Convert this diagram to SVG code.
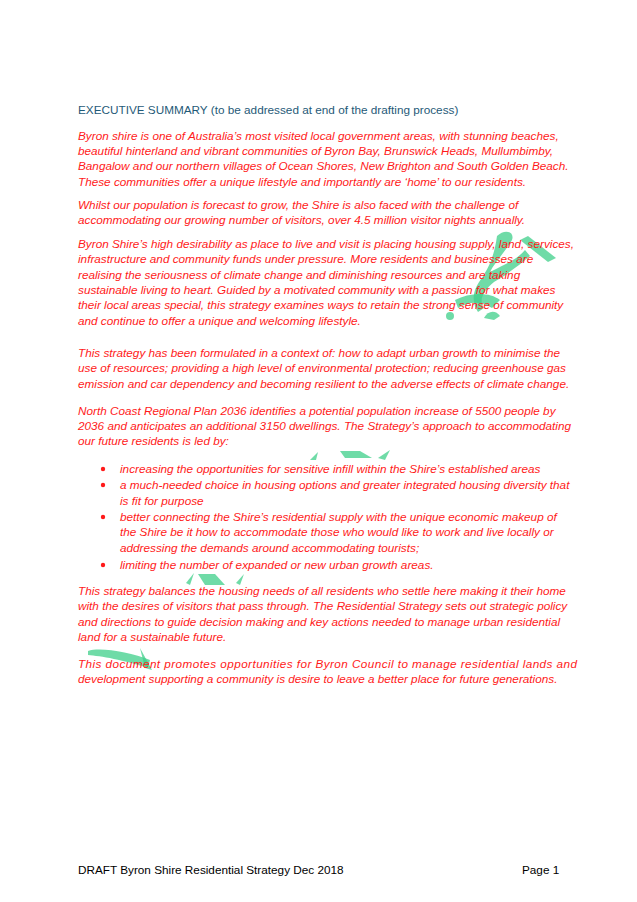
<svg xmlns="http://www.w3.org/2000/svg" width="637" height="902" viewBox="0 0 637 902">
<style>
.t{font-family:"Liberation Sans",Arial,sans-serif;font-size:11.75px;font-style:italic;fill:#ff1a1a}
.h{font-family:"Liberation Sans",Arial,sans-serif;font-size:11.75px;fill:#1f5a78}
.f{font-family:"Liberation Sans",Arial,sans-serif;font-size:11.75px;fill:#000}
.w{fill:#3fcf8a;opacity:0.75}
</style>
<rect width="637" height="902" fill="#fff"/>
<g id="watermark">
<path class="w" d="M497 236 C505 228 515 232 512 240 C505 252 495 262 490 272 L498 268 C510 262 518 258 525 250 L530 256 C518 266 505 276 494 282 C484 290 478 300 484 308 L478 312 C470 300 474 288 482 278 C488 268 494 258 497 236Z"/>
<path class="w" d="M520 240 L548 262 L556 258 L528 236Z"/>
<path class="w" d="M455 300 C470 292 490 292 500 300 L492 308 C480 300 468 302 458 308Z"/>
<circle class="w" cx="450" cy="316" r="4"/>
<path class="w" d="M484 318 C488 310 496 310 500 316 L494 320Z"/>
<path class="w" d="M340 451 L360 451 L372 458 L345 458Z"/>
<path class="w" d="M310 460 L318 452 L316 460Z"/>
<path class="w" d="M378 458 L390 450 L385 460Z"/>
<path class="w" d="M198 574 L215 574 L225 585 L205 585Z"/>
<path class="w" d="M186 583 L194 573 L190 585Z"/>
<path class="w" d="M236 583 L244 574 L240 585Z"/>
<path class="w" d="M88 651 C100 647 130 652 150 660 L148 668 C125 660 100 656 88 655Z"/>
<path class="w" d="M140 648 L152 670 L145 668Z"/>
</g>
<g id="text">
<text class="h" x="78" y="114">EXECUTIVE SUMMARY (to be addressed at end of the drafting process)</text>
<text class="t" x="78" y="140">Byron shire is one of Australia’s most visited local government areas, with stunning beaches,</text>
<text class="t" x="78" y="155">beautiful hinterland and vibrant communities of Byron Bay, Brunswick Heads, Mullumbimby,</text>
<text class="t" x="78" y="170">Bangalow and our northern villages of Ocean Shores, New Brighton and South Golden Beach.</text>
<text class="t" x="78" y="186">These communities offer a unique lifestyle and importantly are ‘home’ to our residents.</text>
<text class="t" x="78" y="209">Whilst our population is forecast to grow, the Shire is also faced with the challenge of</text>
<text class="t" x="78" y="224">accommodating our growing number of visitors, over 4.5 million visitor nights annually.</text>
<text class="t" x="78" y="248">Byron Shire’s high desirability as place to live and visit is placing housing supply, land, services,</text>
<text class="t" x="78" y="263">infrastructure and community funds under pressure. More residents and businesses are</text>
<text class="t" x="78" y="279">realising the seriousness of climate change and diminishing resources and are taking</text>
<text class="t" x="78" y="294">sustainable living to heart. Guided by a motivated community with a passion for what makes</text>
<text class="t" x="78" y="309">their local areas special, this strategy examines ways to retain the strong sense of community</text>
<text class="t" x="78" y="325">and continue to offer a unique and welcoming lifestyle.</text>
<text class="t" x="78" y="357">This strategy has been formulated in a context of: how to adapt urban growth to minimise the</text>
<text class="t" x="78" y="372">use of resources; providing a high level of environmental protection; reducing greenhouse gas</text>
<text class="t" x="78" y="388">emission and car dependency and becoming resilient to the adverse effects of climate change.</text>
<text class="t" x="78" y="415">North Coast Regional Plan 2036 identifies a potential population increase of 5500 people by</text>
<text class="t" x="78" y="430">2036 and anticipates an additional 3150 dwellings. The Strategy’s approach to accommodating</text>
<text class="t" x="78" y="445">our future residents is led by:</text>
<g fill="#ff1a1a"><circle cx="103" cy="469" r="2.2"/><circle cx="103" cy="485" r="2.2"/><circle cx="103" cy="517" r="2.2"/><circle cx="103" cy="565" r="2.2"/></g>
<text class="t" x="120" y="473">increasing the opportunities for sensitive infill within the Shire’s established areas</text>
<text class="t" x="120" y="489">a much-needed choice in housing options and greater integrated housing diversity that</text>
<text class="t" x="120" y="505">is fit for purpose</text>
<text class="t" x="120" y="521">better connecting the Shire’s residential supply with the unique economic makeup of</text>
<text class="t" x="120" y="536">the Shire be it how to accommodate those who would like to work and live locally or</text>
<text class="t" x="120" y="552">addressing the demands around accommodating tourists;</text>
<text class="t" x="120" y="569">limiting the number of expanded or new urban growth areas.</text>
<text class="t" x="78" y="595">This strategy balances the housing needs of all residents who settle here making it their home</text>
<text class="t" x="78" y="610">with the desires of visitors that pass through. The Residential Strategy sets out strategic policy</text>
<text class="t" x="78" y="626">and directions to guide decision making and key actions needed to manage urban residential</text>
<text class="t" x="78" y="641">land for a sustainable future.</text>
<text class="t" x="78" y="668" textLength="499" lengthAdjust="spacing">This document promotes opportunities for Byron Council to manage residential lands and</text>
<text class="t" x="78" y="683">development supporting a community is desire to leave a better place for future generations.</text>
</g>
<g id="footer">
<text class="f" x="78" y="874">DRAFT Byron Shire Residential Strategy Dec 2018</text>
<text class="f" x="522" y="874">Page 1</text>
</g>
</svg>
